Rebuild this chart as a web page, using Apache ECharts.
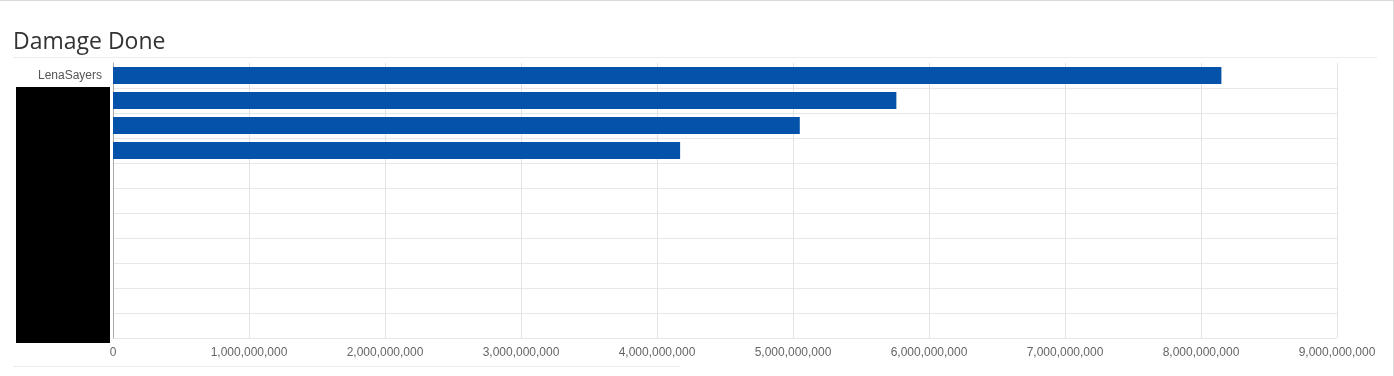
<!DOCTYPE html>
<html>
<head>
<meta charset="utf-8">
<script src="https://cdn.jsdelivr.net/npm/echarts@6/dist/echarts.min.js"></script>
<style>
  html, body { margin: 0; padding: 0; background: #fff; }
  #frame {
    position: relative;
    width: 1393px;
    height: 375px;
    border-top: 1px solid #d9d9d9;
    border-right: 1px solid #d9d9d9;
  }
  #damageChart { position: absolute; left: 0; top: -1px; width: 1394px; height: 376px; }
</style>
</head>
<body>
<div id="frame">
  <div id="damageChart"></div>
</div>
<script>
  // players, top to bottom; only the first name is visible, the rest are redacted
  var players = ['LenaSayers', '', '', '', '', '', '', '', '', '', '']
  var damageDone = [8150000000, 5760000000, 5050000000, 4170000000, null, null, null, null, null, null, null]
  var axisMin = 0
  var axisMax = 9000000000
  var axisStep = 1000000000

  var chart = echarts.init(document.getElementById('damageChart'))

  chart.setOption({
    backgroundColor: 'transparent',
    animation: false,
    title: {
      text: 'Damage Done',
      left: 8,
      top: 26,
      textStyle: {
        fontFamily: 'Open Sans',
        fontWeight: 'normal',
        fontSize: 23,
        color: '#333'
      }
    },
    grid: {
      left: 113,
      right: 57,
      top: 63,
      bottom: 38,
      containLabel: false
    },
    xAxis: {
      type: 'value',
      min: axisMin,
      max: axisMax,
      interval: axisStep,
      axisLine: { show: false },
      axisTick: { show: false },
      axisLabel: {
        margin: 9,
        fontFamily: 'Liberation Sans',
        fontSize: 12,
        color: '#666',
        formatter: function (v) {
          return v.toLocaleString('en-US')
        }
      },
      splitLine: {
        lineStyle: { color: '#e3e3e3' }
      }
    },
    yAxis: {
      type: 'category',
      inverse: true,
      data: players,
      axisLine: {
        lineStyle: { color: '#aaa' }
      },
      axisTick: { show: false },
      axisLabel: {
        margin: 11,
        fontFamily: 'Liberation Sans',
        fontSize: 12,
        color: '#555'
      },
      splitLine: {
        show: true,
        showMinLine: false,
        lineStyle: { color: '#e8e8e8' }
      }
    },
    series: [{
      name: 'Damage Done',
      type: 'bar',
      barWidth: 17,
      data: damageDone,
      itemStyle: {
        color: '#0552ab'
      }
    }],
    graphic: [
      {
        type: 'line',
        shape: { x1: 13, y1: 57.5, x2: 1377, y2: 57.5 },
        style: { stroke: '#ececec', lineWidth: 1 }
      },
      {
        type: 'line',
        shape: { x1: 13, y1: 366.5, x2: 680, y2: 366.5 },
        style: { stroke: '#ececec', lineWidth: 1 }
      },
      {
        // redaction box over the hidden player names
        type: 'rect',
        z: 100,
        shape: { x: 16, y: 87, width: 94, height: 256 },
        style: { fill: '#000' }
      }
    ]
  })
</script>
</body>
</html>
